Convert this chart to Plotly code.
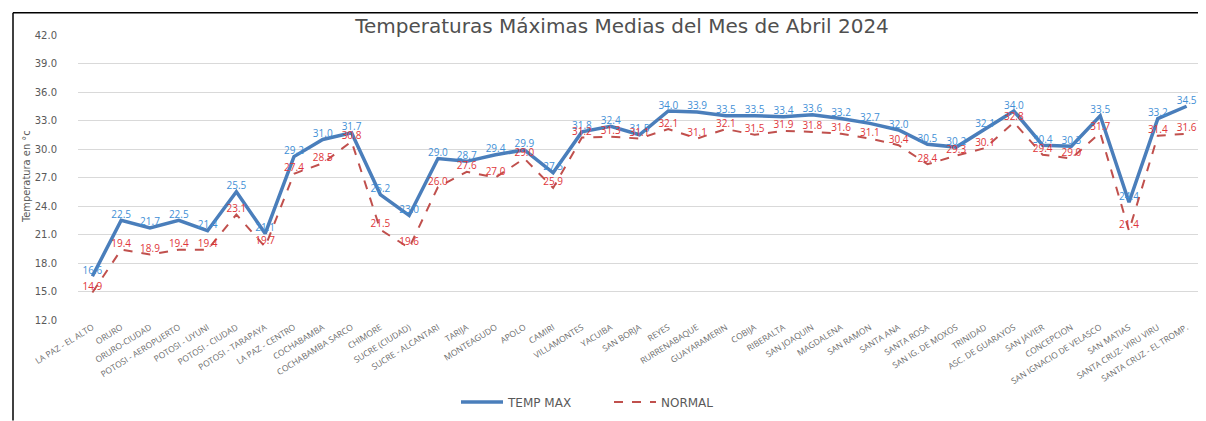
import plotly.graph_objects as go

estaciones = [
    "LA PAZ - EL ALTO", "ORURO", "ORURO-CIUDAD", "POTOSI - AEROPUERTO", "POTOSI - UYUNI",
    "POTOSI - CIUDAD", "POTOSI - TARAPAYA", "LA PAZ - CENTRO", "COCHABAMBA", "COCHABAMBA SARCO",
    "CHIMORE", "SUCRE (CIUDAD)", "SUCRE - ALCANTARI", "TARIJA", "MONTEAGUDO", "APOLO", "CAMIRI",
    "VILLAMONTES", "YACUIBA", "SAN BORJA", "REYES", "RURRENABAQUE", "GUAYARAMERIN", "COBIJA",
    "RIBERALTA", "SAN JOAQUIN", "MAGDALENA", "SAN RAMON", "SANTA ANA", "SANTA ROSA",
    "SAN IG. DE MOXOS", "TRINIDAD", "ASC. DE GUARAYOS", "SAN JAVIER", "CONCEPCION",
    "SAN IGNACIO DE VELASCO", "SAN MATIAS", "SANTA CRUZ- VIRU VIRU", "SANTA CRUZ - EL TROMP.",
]

temp_max = [16.6, 22.5, 21.7, 22.5, 21.4, 25.5, 21.1, 29.2, 31.0, 31.7,
            25.2, 23.0, 29.0, 28.7, 29.4, 29.9, 27.5, 31.8, 32.4, 31.5,
            34.0, 33.9, 33.5, 33.5, 33.4, 33.6, 33.2, 32.7, 32.0, 30.5,
            30.2, 32.1, 34.0, 30.4, 30.3, 33.5, 24.4, 33.2, 34.5]

normal = [14.9, 19.4, 18.9, 19.4, 19.4, 23.1, 19.7, 27.4, 28.5, 30.8,
          21.5, 19.6, 26.0, 27.6, 27.0, 29.0, 25.9, 31.2, 31.3, 31.1,
          32.1, 31.1, 32.1, 31.5, 31.9, 31.8, 31.6, 31.1, 30.4, 28.4,
          29.3, 30.1, 32.8, 29.4, 29.0, 31.7, 21.4, 31.4, 31.6]

y_ticks = [12, 15, 18, 21, 24, 27, 30, 33, 36, 39, 42]

W, H = 1206, 421
L, R, T, B = 70, 13, 27, 99
pw, ph = W - L - R, H - T - B

def px_x(p):
    return (p - L) / pw

def px_y(p):
    return (H - B - p) / ph

grey = "#595959"
font_main = "Open Sans, Liberation Sans, sans-serif"
font_wide = "DejaVu Sans, Verdana, sans-serif"

fig = go.Figure()
fig.add_trace(go.Scatter(
    x=estaciones, y=temp_max, name="TEMP MAX", mode="lines+text",
    line=dict(color="#4A7EBB", width=3.5),
    text=[f"{v:.1f}" for v in temp_max], textposition="top center",
    textfont=dict(color="#3F8FD6", size=10, family=font_main),
))
fig.add_trace(go.Scatter(
    x=estaciones, y=normal, name="NORMAL", mode="lines+text",
    line=dict(color="#C0504D", width=2, dash="dash"),
    text=[f"{v:.1f}" for v in normal], textposition="top center",
    textfont=dict(color="#E0363A", size=10, family=font_main),
))

fig.update_layout(
    width=W, height=H,
    margin=dict(l=L, r=R, t=T, b=B),
    paper_bgcolor="white", plot_bgcolor="white",
    title=dict(text="Temperaturas Máximas Medias del Mes de Abril 2024",
               x=614 / W, xanchor="center", xref="container",
               y=1 - 18 / H, yanchor="middle", yref="container",
               font=dict(size=20, color="#505050", family=font_wide)),
    xaxis=dict(type="category", range=[-0.5, len(estaciones) - 0.5],
               showgrid=False, showline=False, zeroline=False, ticks="",
               tickangle=-32, tickfont=dict(size=8.5, color="#6a6a6a", family=font_main)),
    yaxis=dict(range=[12, 42], tickvals=y_ticks, tickformat=".1f",
               showgrid=True, gridcolor="#D9D9D9", gridwidth=1, zeroline=False,
               showline=False, ticks="", ticklen=0, ticklabelstandoff=20,
               tickfont=dict(size=10, color=grey, family=font_wide)),
    showlegend=True,
    legend=dict(orientation="h", x=px_x(601), xanchor="center",
                y=px_y(407), yanchor="middle",
                font=dict(size=12, color=grey, family=font_wide),
                itemwidth=42, entrywidth=96, entrywidthmode="pixels",
                bgcolor="rgba(0,0,0,0)"),
    annotations=[dict(text="Temperatura en °c", textangle=-90,
                      x=px_x(18), y=px_y(174), xref="paper", yref="paper",
                      xanchor="center", yanchor="middle", showarrow=False,
                      font=dict(size=11, color=grey,
                                family="Liberation Sans Narrow, DejaVu Sans Condensed, sans-serif"))],
    shapes=[
        dict(type="line", xref="paper", yref="paper",
             x0=px_x(5), x1=px_x(W + 5), y0=px_y(4), y1=px_y(4),
             line=dict(color="black", width=1.5)),
        dict(type="line", xref="paper", yref="paper",
             x0=px_x(5), x1=px_x(5), y0=px_y(4), y1=px_y(H + 5),
             line=dict(color="black", width=1.5)),
    ],
)

fig.write_html("out.html")
